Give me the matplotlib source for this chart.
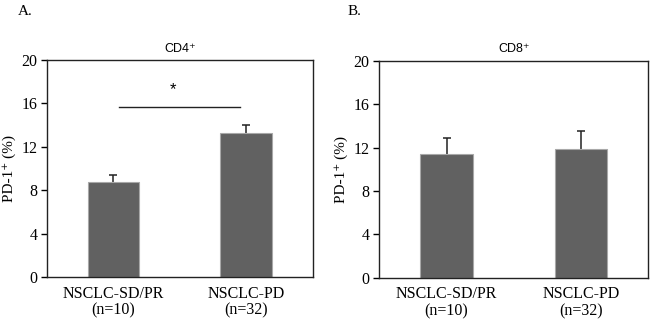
import numpy as np
import matplotlib
matplotlib.use('Agg')
import matplotlib.pyplot as plt

# data
groups = ['NSCLC-SD/PR\n(n=10)', 'NSCLC-PD\n(n=32)']
cd4_mean = [8.8, 13.3]
cd4_err = [0.65, 0.7]
cd8_mean = [11.4, 11.85]
cd8_err = [1.5, 1.65]
yticks = [0, 4, 8, 12, 16, 20]

serif = ['Liberation Serif', 'DejaVu Serif']
sans = ['Liberation Sans', 'DejaVu Sans']

plt.rcParams['font.family'] = serif

fig = plt.figure(figsize=(6.5, 3.3), dpi=100)
ax1 = fig.add_axes([0.0723, 0.160, 0.409, 0.658])
ax2 = fig.add_axes([0.5835, 0.158, 0.414, 0.658])


def draw_panel(ax, means, errs, title):
    x = np.arange(len(means))
    ax.bar(x, means, width=0.39, color='#616161', edgecolor='#a8a8a8', linewidth=0.8, zorder=2)
    # drawn under the bars so only the upper half shows
    ax.errorbar(x, means, yerr=errs, fmt='none',
                ecolor='#222222', elinewidth=1.1, capsize=2.6, capthick=1.1, zorder=1)
    ax.set_xlim(-0.5, 1.5)
    ax.set_ylim(0, 20)
    ax.set_yticks(yticks)
    ax.set_xticks(x)
    ax.set_xticklabels(groups, fontsize=11.5, linespacing=1.1)
    ax.tick_params(axis='x', length=0, pad=6)
    ax.tick_params(axis='y', length=4, width=1, labelsize=11.5, pad=3)
    for s in ax.spines.values():
        s.set_linewidth(1.0)
        s.set_color('#222222')
    ax.set_ylabel('PD-1⁺ (%)', fontsize=11, labelpad=4)
    ax.set_title(title, family=sans, fontsize=9, pad=6)


draw_panel(ax1, cd4_mean, cd4_err, 'CD4⁺')
draw_panel(ax2, cd8_mean, cd8_err, 'CD8⁺')

# significance bar
ax1.plot([0.045, 0.95], [15.7, 15.7], color='#222222', lw=1.0)
ax1.text(0.45, 16.6, '*', ha='center', va='bottom', fontsize=12, family=sans)

fig.text(0.028, 0.985, 'A.', fontsize=11, va='top')
fig.text(0.535, 0.985, 'B.', fontsize=11, va='top')

fig.savefig('out.png', dpi=100)
